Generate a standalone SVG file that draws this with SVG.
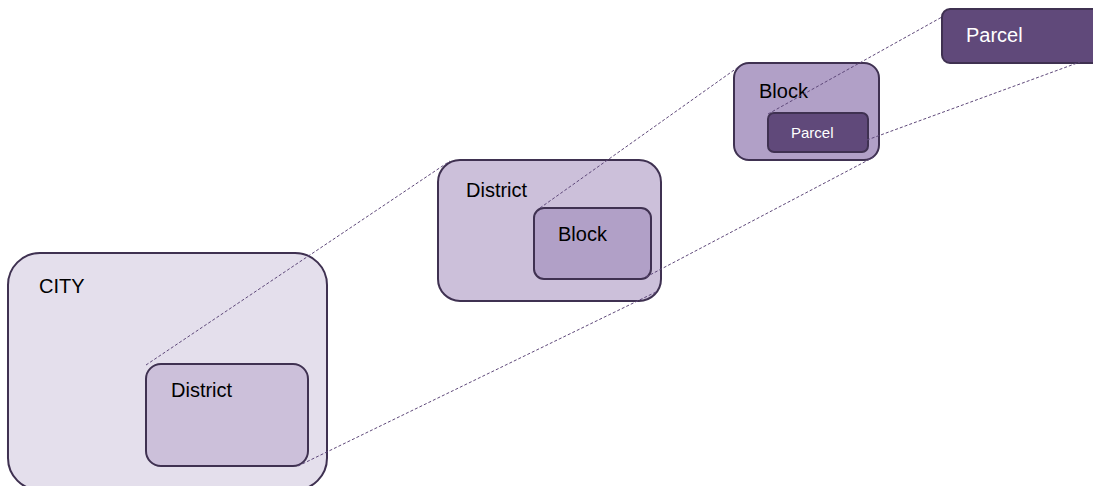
<svg xmlns="http://www.w3.org/2000/svg" width="1093" height="486" viewBox="0 0 1093 486">
<style>
.box{stroke:#3f3151;stroke-width:2}
.city{fill:#e4dfec}
.district{fill:#ccc0da}
.block{fill:#b1a0c7}
.parcel{fill:#60497a}
.t{font-family:"Liberation Sans",Arial,sans-serif;font-size:20px;fill:#000}
.w{fill:#fff}
.conn line{stroke:#5f497a;stroke-width:1;stroke-dasharray:3 2}
</style>
<rect width="1093" height="486" fill="#fff"/>
<g id="city">
<rect class="box city" x="8" y="253" width="319" height="237" rx="32"/>
<text class="t" x="39" y="293">CITY</text>
</g>
<g id="city-district">
<rect class="box district" x="146" y="364" width="162" height="102" rx="15"/>
<text class="t" x="171" y="397">District</text>
</g>
<g id="district">
<rect class="box district" x="438" y="160" width="223" height="141" rx="22"/>
<text class="t" x="466" y="197">District</text>
</g>
<g id="district-block">
<rect class="box block" x="534" y="208" width="117" height="71" rx="10"/>
<text class="t" x="558" y="241">Block</text>
</g>
<g id="block">
<rect class="box block" x="734" y="63" width="145" height="97" rx="15"/>
<text class="t" x="759" y="98">Block</text>
</g>
<g id="block-parcel">
<rect class="box parcel" x="768" y="113" width="100" height="39" rx="6"/>
<text class="t w" x="791" y="138" style="font-size:15px">Parcel</text>
</g>
<g id="parcel">
<rect class="box parcel" x="942" y="9" width="160" height="54" rx="8"/>
<text class="t w" x="966" y="42">Parcel</text>
</g>
<g class="conn" id="connectors">
<line x1="146" y1="365" x2="450" y2="161"/>
<line x1="298" y1="466" x2="656" y2="292"/>
<line x1="540" y1="208" x2="737" y2="68"/>
<line x1="646" y1="277" x2="874" y2="157"/>
<line x1="768" y1="114" x2="942" y2="17"/>
<line x1="867" y1="140" x2="1080" y2="62"/>
</g>
</svg>
